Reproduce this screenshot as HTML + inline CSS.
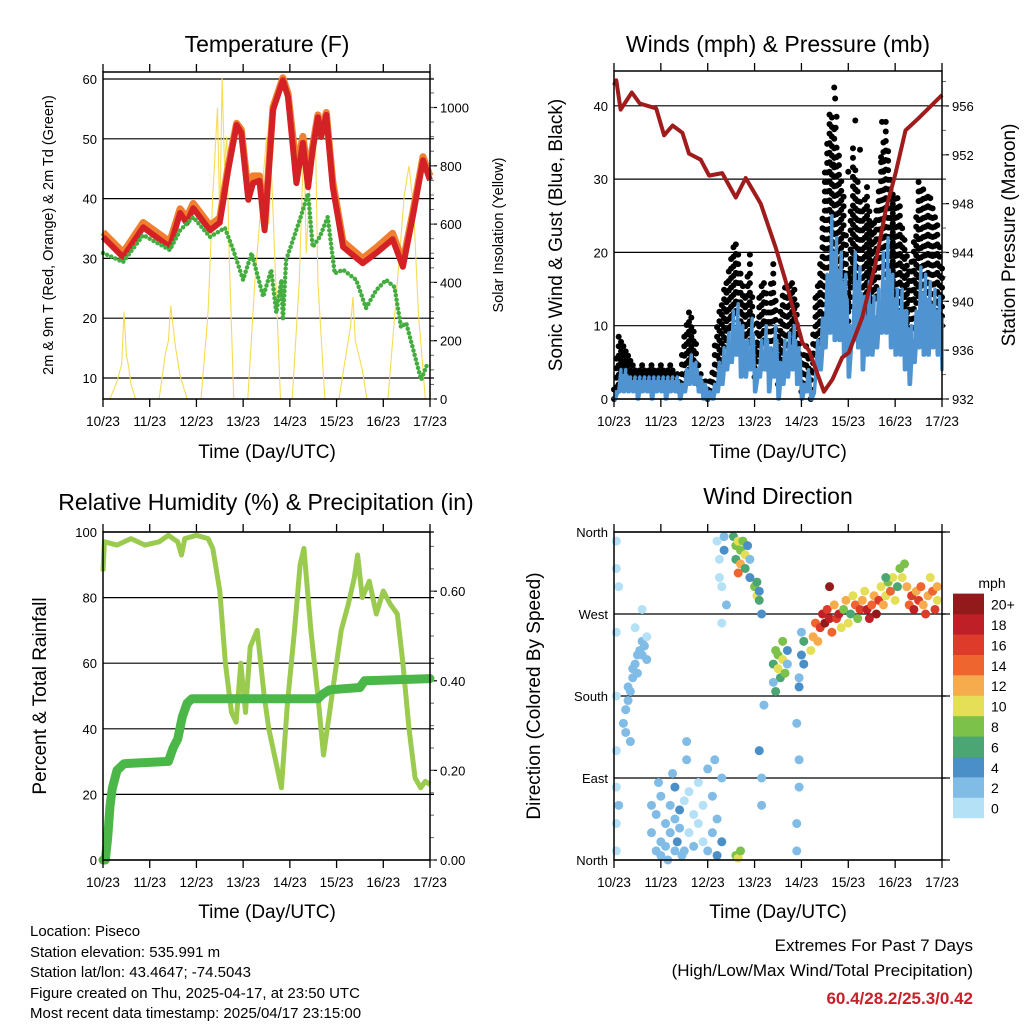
<!DOCTYPE html>
<html><head><meta charset="utf-8"><style>
body{margin:0;background:#fff;}
svg{display:block;font-family:"Liberation Sans",Arial,sans-serif;}
</style></head><body>
<svg id="chart" width="1024" height="1024" viewBox="0 0 1024 1024" xmlns="http://www.w3.org/2000/svg">
<rect width="1024" height="1024" fill="#fff"/>
<text x="267" y="52" font-size="23" text-anchor="middle">Temperature (F)</text>
<text x="778" y="52" font-size="23" text-anchor="middle">Winds (mph) &amp; Pressure (mb)</text>
<text x="266" y="510" font-size="23" text-anchor="middle">Relative Humidity (%) &amp; Precipitation (in)</text>
<text x="778" y="504" font-size="23" text-anchor="middle">Wind Direction</text>
<text x="267" y="458" font-size="19" text-anchor="middle">Time (Day/UTC)</text>
<text x="778" y="458" font-size="19" text-anchor="middle">Time (Day/UTC)</text>
<text x="267" y="918" font-size="19" text-anchor="middle">Time (Day/UTC)</text>
<text x="778" y="918" font-size="19" text-anchor="middle">Time (Day/UTC)</text>
<text transform="translate(53,235) rotate(-90)" font-size="14.5" text-anchor="middle">2m &amp; 9m T (Red, Orange) &amp; 2m Td (Green)</text>
<text transform="translate(503,235) rotate(-90)" font-size="14.5" text-anchor="middle">Solar Insolation (Yellow)</text>
<text transform="translate(562,235) rotate(-90)" font-size="19" text-anchor="middle">Sonic Wind &amp; Gust (Blue, Black)</text>
<text transform="translate(1015,235) rotate(-90)" font-size="19" text-anchor="middle">Station Pressure (Maroon)</text>
<text transform="translate(46,696) rotate(-90)" font-size="19" text-anchor="middle">Percent &amp; Total Rainfall</text>
<text transform="translate(540,696) rotate(-90)" font-size="19" text-anchor="middle">Direction (Colored By Speed)</text>
<g font-size="15">
<text x="30" y="936">Location: Piseco</text>
<text x="30" y="957">Station elevation: 535.991 m</text>
<text x="30" y="977">Station lat/lon: 43.4647; -74.5043</text>
<text x="30" y="998">Figure created on Thu, 2025-04-17, at 23:50 UTC</text>
<text x="30" y="1018">Most recent data timestamp: 2025/04/17 23:15:00</text>
</g>
<text x="973" y="951" font-size="17" text-anchor="end">Extremes For Past 7 Days</text>
<text x="973" y="976" font-size="17" text-anchor="end">(High/Low/Max Wind/Total Precipitation)</text>
<text x="973" y="1004" font-size="17" font-weight="bold" fill="#c8202a" text-anchor="end">60.4/28.2/25.3/0.42</text>
<text x="992" y="588" font-size="14" text-anchor="middle">mph</text>
</svg>
<script>
// ---------- data ----------
var dayLabels=["10/23","11/23","12/23","13/23","14/23","15/23","16/23","17/23"];
var tempT=[0,0.43,0.86,1.43,1.65,1.79,1.93,2.29,2.5,2.68,2.86,2.96,3.11,3.21,3.35,3.46,3.64,3.85,3.96,4.14,4.28,4.39,4.49,4.6,4.67,4.78,4.92,5.14,5.56,5.85,6.2,6.42,6.63,6.85,7.0];
var tempRed=[33.6,30.2,35.2,31.9,37.6,35.9,38.4,34.7,36,44.8,52.3,51,39.8,42.6,43,34.7,54.8,59.8,57,42.6,49.3,41.9,48.1,53.6,50.3,54,41.9,31.9,29.2,30.9,33.2,28.6,36.9,46.4,43.1];
var tempOrange=[34.4,31,36,32.8,38.3,36.8,39.2,35.5,36.8,45.5,52.6,51.5,41,43.8,43.8,35.5,55.3,60.2,57.6,45,50.4,44,48.8,54,51,54.4,42.8,32.8,30,31.8,34.2,29.4,37.6,47,43.8];
var dewT=[0,0.43,0.86,1.43,1.65,1.93,2.29,2.61,2.79,3.0,3.18,3.43,3.6,3.71,3.82,3.85,3.92,4.21,4.39,4.49,4.64,4.81,4.96,5.14,5.42,5.63,5.85,6.06,6.24,6.38,6.49,6.7,6.81,6.95];
var dewVal=[30.9,29.4,33.9,31.4,34.7,36.9,33.6,35.1,31.4,26.4,30.9,23.6,28.1,20.9,26.4,19.7,29.7,36.4,40.9,31.9,33.6,36.9,27.5,28.1,26.4,21.7,24.7,26.4,25.2,18.5,19.2,13,9.7,12.5];
var solarT=[0,0.15,0.3,0.4,0.45,0.5,0.55,0.6,0.7,1.2,1.33,1.4,1.45,1.5,1.55,1.65,1.8,2.1,2.25,2.35,2.45,2.5,2.55,2.6,2.65,2.7,2.8,3.1,3.25,3.4,3.5,3.55,3.6,3.7,3.8,4.05,4.2,4.3,4.35,4.45,4.55,4.6,4.75,5.05,5.2,5.3,5.35,5.4,5.55,5.65,6.1,6.3,6.45,6.55,6.65,6.75,6.9,7.0];
var solarVal=[0,0,60,120,300,150,110,50,0,0,150,200,320,250,180,80,0,0,300,700,1000,600,1100,800,900,500,0,0,400,700,900,600,800,400,0,0,400,900,500,800,900,400,0,0,150,250,350,200,100,0,0,400,700,800,650,300,0,0];
var pressT=[0,0.05,0.14,0.38,0.55,0.9,1.07,1.25,1.46,1.6,1.85,2.03,2.31,2.6,2.81,3.13,3.45,3.66,4.02,4.16,4.48,4.66,4.87,5.01,5.3,5.58,5.8,6.01,6.22,6.5,7.0];
var pressVal=[957.7,958.1,955.7,957.1,956.2,955.8,953.6,954.4,953.8,952.1,951.6,950.3,950.5,948.5,950.1,948.0,944.4,941.7,936.6,936,932.6,933.6,935.4,935.8,938.7,943.1,947.5,950.5,954,955,956.9];
var windHi=[1,4,4,3,3,3,3,3,3,3, 3,3,3,3,2,4,6,5,3,2, 1,2,5,7,9,12,13,10,8,11, 4,8,10,7,10,5,8,9,10,7, 2,4,1,8,11,17,25,22,20,17, 10,20,18,14,16,14,15,20,22,17, 15,15,12,10,12,18,17,16,15,14,11];
var windLo=[0,1,1,1,1,0,1,1,0,1, 1,0,1,1,0,1,2,2,1,0, 0,0,1,2,4,5,6,3,3,4, 1,3,4,1,3,0,2,3,4,2, 0,1,0,3,4,7,9,8,8,6, 3,8,7,4,6,6,7,9,9,7, 6,6,4,2,5,7,6,6,7,6,4];
var gustHi=[2,9,8,7,5,4,5,4,5,4, 5,4,5,4,3,9,13,10,5,3, 2,4,11,13,17,20,22,18,14,20, 8,15,17,13,19,9,15,16,17,13, 5,8,4,14,19,32,40,37,34,28, 18,35,30,26,29,24,26,33,38,30, 28,27,22,18,22,30,29,28,27,24,18];
var gustLo=[0,2,2,2,2,2,2,2,2,2, 2,2,2,2,1,2,4,4,2,1, 0,1,2,5,8,10,12,8,6,8, 3,6,8,4,8,2,5,6,8,5, 1,2,0,6,8,14,18,16,15,12, 8,16,14,10,12,12,14,18,17,13, 13,12,10,7,11,14,13,12,13,12,10];
var gustOutT=[4.7,4.72,4.75,4.73,5.15,5.72,4.68,5.7,5.75,5.0,5.25];
var gustOutV=[42.5,41,38.5,37,38,37.8,32,33,31,31,34];
var rhT=[0,0.03,0.3,0.6,0.9,1.2,1.4,1.6,1.68,1.75,2.0,2.25,2.35,2.5,2.62,2.75,2.85,2.95,3.05,3.15,3.3,3.45,3.55,3.7,3.82,3.95,4.1,4.22,4.3,4.45,4.6,4.72,4.85,4.95,5.1,5.25,5.38,5.45,5.55,5.7,5.85,6.0,6.15,6.3,6.42,6.55,6.68,6.8,6.9,7.0];
var rhVal=[88,97,96,98,96,97,99,97,93,98,99,98,95,82,60,45,42,60,45,65,70,50,40,30,22,48,70,90,95,70,50,32,45,55,70,78,86,93,80,85,75,82,78,75,60,40,25,22,24,23];
var precipT=[0,0.05,0.1,0.15,0.2,0.3,0.45,1.4,1.5,1.6,1.7,1.8,1.9,4.6,4.7,4.85,5.5,5.6,7.0];
var precipVal=[0,0,0.05,0.12,0.16,0.2,0.215,0.22,0.25,0.27,0.32,0.35,0.36,0.36,0.37,0.38,0.385,0.40,0.405];
var dirT=[0.05,0.05,0.05,0.05,0.05,0.05,0.05,0.05,0.1,0.1, 0.2,0.25,0.3,0.3,0.35,0.4,0.4,0.45,0.5,0.5,0.55,0.6,0.6,0.65,0.7,0.7,0.35,0.25,0.45,0.6,
0.8,0.8,0.9,0.9,1.0,1.0,1.0,1.1,1.1,1.2,1.2,1.3,1.3,1.3,1.35,1.4,1.4,1.5,1.5,1.6,1.6,1.7,1.7,1.8,1.8,1.9,1.9,2.0,2.0,2.1,2.1,2.2,2.2,2.3,2.3,1.15,1.45,1.25,2.15,0.95,1.55,1.55,
2.2,2.25,2.3,2.25,2.35,2.35,2.4,2.3, 2.55,2.6,2.6,2.65,2.7,2.7,2.75,2.8,2.8,2.85,2.9,2.9,2.65, 2.6,2.65,2.7,
3.0,3.05,3.05,3.1,3.1,3.15, 3.1,3.15,3.15,3.2,
3.4,3.45,3.5,3.5,3.55,3.6,3.6,3.65,3.7,3.4,3.45,3.7,
3.95,4.0,4.05,4.05,4.0,3.9,3.95,3.95,3.9,3.9,3.95,
4.2,4.25,4.3,4.35,4.4,4.45,4.5,4.55,4.6,4.65,4.7,4.75,4.8,4.85,4.9,4.95,5.0,5.05,5.1,5.15,5.2,5.25,5.3,5.35,5.4,5.45,5.5,5.55,5.6,5.65,5.7,5.75,5.8,5.85,5.9,5.95,6.0,6.05,6.1,6.15,6.2,6.25,6.3,6.35,6.4,6.45,6.5,6.55,6.6,6.65,6.7,6.75,6.8,6.85,6.9,6.9,4.6,5.8];
var dirDeg=[350,320,250,180,120,80,40,10,300,60, 150,165,175,190,185,200,210,215,225,205,230,240,225,235,220,245,130,140,255,275,
60,30,10,50,20,70,5,40,15,60,30,10,45,80,20,55,35,10,65,30,75,15,50,40,85,20,60,10,100,30,70,5,45,20,90,0,5,95,110,85,110,130,
350,330,300,310,355,340,280,260, 355,345,330,350,340,325,350,335,320,345,330,310,315, 5,2,10,
300,290,305,295,285,270, 120,90,60,170,
215,230,210,225,200,220,240,205,230,195,185,215,
200,225,240,215,250,150,110,80,40,10,190,
230,245,260,240,255,270,260,275,265,250,280,265,270,255,275,285,260,270,290,280,265,275,285,295,275,265,280,290,270,285,300,280,290,305,295,310,285,300,320,310,325,300,280,290,275,295,285,300,280,270,290,310,295,275,300,285,300,310];
var dirSpd=[1,0,1,1,0,1,1,0,1,2, 2,2,2,2,2,2,2,2,2,2,2,2,3,2,2,1,2,2,1,1,
2,2,2,2,2,2,2,3,2,2,2,3,3,4,4,4,3,2,1,1,1,2,1,1,1,1,1,2,2,3,2,4,3,4,2,2,2,2,2,2,2,2,
1,1,1,0,3,4,2,1, 6,8,6,10,9,12,8,10,7,4,3,4,14, 8,10,8,
8,10,6,4,6,4, 4,3,2,2,
6,8,10,8,6,10,8,8,4,3,6,3,
3,5,6,5,2,2,2,2,2,2,4,
10,12,14,12,16,18,20,16,18,14,12,16,18,10,8,12,10,6,10,14,8,16,12,10,18,18,14,12,20,16,10,12,10,8,14,10,10,6,8,10,8,12,14,16,18,12,16,14,12,16,12,10,14,16,12,10,20,6];
var cbLabels=["0","2","4","6","8","10","12","14","16","18","20+"];
var cbColors=["#b5e1f6","#80bce6","#4a8fc8","#4ba673","#7cc24a","#e4df57","#f6ab4c","#ef6530","#df3b2b","#bf1f26","#931a1a"];

// ---------- helpers ----------
var NS="http://www.w3.org/2000/svg";
var svg=document.getElementById("chart");
function mk(tag,attrs,parent){var e=document.createElementNS(NS,tag);for(var k in attrs)e.setAttribute(k,attrs[k]);(parent||svg).appendChild(e);return e;}
function panel(x0,x1,y0,y1){return{x0:x0,x1:x1,y0:y0,y1:y1,tx:function(t){return x0+t*(x1-x0)/7;}};}
var P1=panel(103,430,72,399),P2=panel(614,942,71,399),P3=panel(103,430,532,860),P4=panel(614,942,532,860);
var yTemp=function(v){return 378-(v-10)*5.98;};
var ySolar=function(v){return 399-v*0.2915;};
var yWind=function(v){return 399-v*7.33;};
var yPress=function(v){return 399-(v-932)*12.21;};
var yRH=function(v){return 860-v*3.28;};
var yPrecip=function(v){return 860-v*448;};
var yDir=function(d){return 860-d*328/360;};
function pts(P,ts,vs,fy){var s=[];for(var i=0;i<ts.length;i++)s.push(P.tx(ts[i]).toFixed(1)+","+fy(vs[i]).toFixed(1));return s.join(" ");}

function frame(P,name){
  var g=mk("g",{});
  
  
  for(var i=0;i<dayLabels.length;i++){
    var x=P.tx(i);
    var tk=mk("line",{x1:x,x2:x,y1:P.y1,y2:P.y1+8,stroke:"#000","stroke-width":1.3},g);
    
    
    var tt=mk("line",{x1:x,x2:x,y1:P.y0,y2:P.y0-8,stroke:"#000","stroke-width":1.3},g);
    
    
    var lb=mk("text",{x:x,y:P.y1+27,"font-size":13.5,"text-anchor":"middle"},g);
    lb.textContent=dayLabels[i];
    
    
  }
  var r=mk("rect",{x:P.x0,y:P.y0,width:P.x1-P.x0,height:P.y1-P.y0,fill:"none",stroke:"#000","stroke-width":1.5},g);
  
  
  return g;
}
function leftAxis(P,vals,labels,fy,name){
  for(var i=0;i<vals.length;i++){
    var y=fy(vals[i]);
    var gl=mk("line",{x1:P.x0,x2:P.x1+4,y1:y,y2:y,stroke:"#000","stroke-width":1.2});
    
    
    var t=mk("text",{x:P.x0-6,y:y+5,"font-size":13,"text-anchor":"end"});
    t.textContent=labels[i];
    
    
  }
}
function rightAxis(P,vals,labels,fy,name,minor){
  for(var i=0;i<vals.length;i++){
    var y=fy(vals[i]);
    var tk=mk("line",{x1:P.x1,x2:P.x1+7,y1:y,y2:y,stroke:"#000","stroke-width":1.2});
    
    
    var t=mk("text",{x:P.x1+10,y:y+5,"font-size":13});
    t.textContent=labels[i];
    
    
  }
  for(var j=0;j<minor.length;j++){
    var ym=fy(minor[j]);
    if(ym<P.y0||ym>P.y1)continue;
    var m=mk("line",{x1:P.x1,x2:P.x1+4,y1:ym,y2:ym,stroke:"#666","stroke-width":1});
    
    
  }
}

// ---------- Panel 1: Temperature ----------
leftAxis(P1,[10,20,30,40,50,60],["10","20","30","40","50","60"],yTemp,"temp");
var solMinor=[];for(var s=0;s<=1100;s+=50)solMinor.push(s);
rightAxis(P1,[0,200,400,600,800,1000],["0","200","400","600","800","1000"],ySolar,"solar",solMinor);
var solar=mk("polyline",{points:pts(P1,solarT,solarVal,ySolar),fill:"none",stroke:"#f6dc55","stroke-width":1.1});


var orange=mk("polyline",{points:pts(P1,tempT,tempOrange,yTemp),fill:"none",stroke:"#f08030","stroke-width":7,"stroke-linejoin":"round"});


var red=mk("polyline",{points:pts(P1,tempT,tempRed,yTemp),fill:"none",stroke:"#d42126","stroke-width":6,"stroke-linejoin":"round"});


var dew=mk("polyline",{points:pts(P1,dewT,dewVal,yTemp),fill:"none",stroke:"#44ad3f","stroke-width":4.5,"stroke-dasharray":"0 4.5","stroke-linecap":"round","stroke-linejoin":"round"});


frame(P1,"temperature");

// ---------- Panel 2: Winds & Pressure ----------
leftAxis(P2,[0,10,20,30,40],["0","10","20","30","40"],yWind,"wind");
var pMinor=[];for(var p=932;p<=958;p+=2)pMinor.push(p);
rightAxis(P2,[932,936,940,944,948,952,956],["932","936","940","944","948","952","956"],yPress,"pressure",pMinor);
var gustG=mk("g",{fill:"#000"});


for(var i=0;i<gustHi.length;i++){
  var t=i*0.1;
  for(var v=gustLo[i];v<=gustHi[i];v+=1.3){
    var c=mk("circle",{cx:P2.tx(t),cy:yWind(v),r:3},gustG);
    
    
  }
  if(i<gustHi.length-1){
    for(var v2=(gustLo[i]+gustLo[i+1])/2+0.6;v2<=(gustHi[i]+gustHi[i+1])/2;v2+=1.3){
      var c2=mk("circle",{cx:P2.tx(t+0.05),cy:yWind(v2),r:3},gustG);
      
      
    }
  }
}
for(var k=0;k<gustOutT.length;k++){
  var co=mk("circle",{cx:P2.tx(gustOutT[k]),cy:yWind(gustOutV[k]),r:3},gustG);
  
  
}
var wz=[];
for(var i=0;i<windHi.length;i++){
  wz.push(P2.tx(i*0.1).toFixed(1)+","+yWind(windLo[i]).toFixed(1));
  wz.push(P2.tx(Math.min(7,i*0.1+0.05)).toFixed(1)+","+yWind(windHi[i]).toFixed(1));
  wz.push(P2.tx(Math.min(7,i*0.1+0.025)).toFixed(1)+","+yWind(windLo[i]).toFixed(1));
  wz.push(P2.tx(Math.min(7,i*0.1+0.075)).toFixed(1)+","+yWind(windHi[i]*0.8).toFixed(1));
}
var wl=mk("polyline",{points:wz.join(" "),fill:"none",stroke:"#4f94d0","stroke-width":3.5,"stroke-linejoin":"round"});


var pl=mk("polyline",{points:pts(P2,pressT,pressVal,yPress),fill:"none",stroke:"#a01b1c","stroke-width":4,"stroke-linejoin":"round"});


frame(P2,"winds");

// ---------- Panel 3: RH & Precip ----------
leftAxis(P3,[0,20,40,60,80,100],["0","20","40","60","80","100"],yRH,"rh");
var prMinor=[];for(var q=0;q<=0.72;q+=0.05)prMinor.push(q);
rightAxis(P3,[0,0.2,0.4,0.6],["0.00","0.20","0.40","0.60"],yPrecip,"precip",prMinor);
var rh=mk("polyline",{points:pts(P3,rhT,rhVal,yRH),fill:"none",stroke:"#9acb4f","stroke-width":5,"stroke-linejoin":"round"});


var pr=mk("polyline",{points:pts(P3,precipT,precipVal,yPrecip),fill:"none",stroke:"#4bb748","stroke-width":9,"stroke-linejoin":"round","stroke-linecap":"round"});


frame(P3,"humidity");

// ---------- Panel 4: Wind direction ----------
leftAxis(P4,[0,90,180,270,360],["North","East","South","West","North"],yDir,"direction");
for(var j=0;j<5;j++){var gy=yDir(j*90);var ge=mk("line",{x1:P4.x1,x2:P4.x1+8,y1:gy,y2:gy,stroke:"#000","stroke-width":1.2});}
var dg=mk("g",{});


for(var i=0;i<dirT.length;i++){
  var bin=Math.min(10,Math.floor(dirSpd[i]/2));
  var dc=mk("circle",{cx:P4.tx(dirT[i]),cy:yDir(dirDeg[i]),r:4.5,fill:cbColors[bin]},dg);
  
  
}
frame(P4,"direction");
var cb=mk("g",{});


for(var i=0;i<cbColors.length;i++){
  var by=818-(i+1)*20.4;
  var br=mk("rect",{x:953,y:by,width:31,height:20.6,fill:cbColors[i]},cb);
  
  
  var bt=mk("text",{x:991,y:by+16,"font-size":14},cb);
  bt.textContent=cbLabels[i];
  
  
}
</script>
</body></html>
